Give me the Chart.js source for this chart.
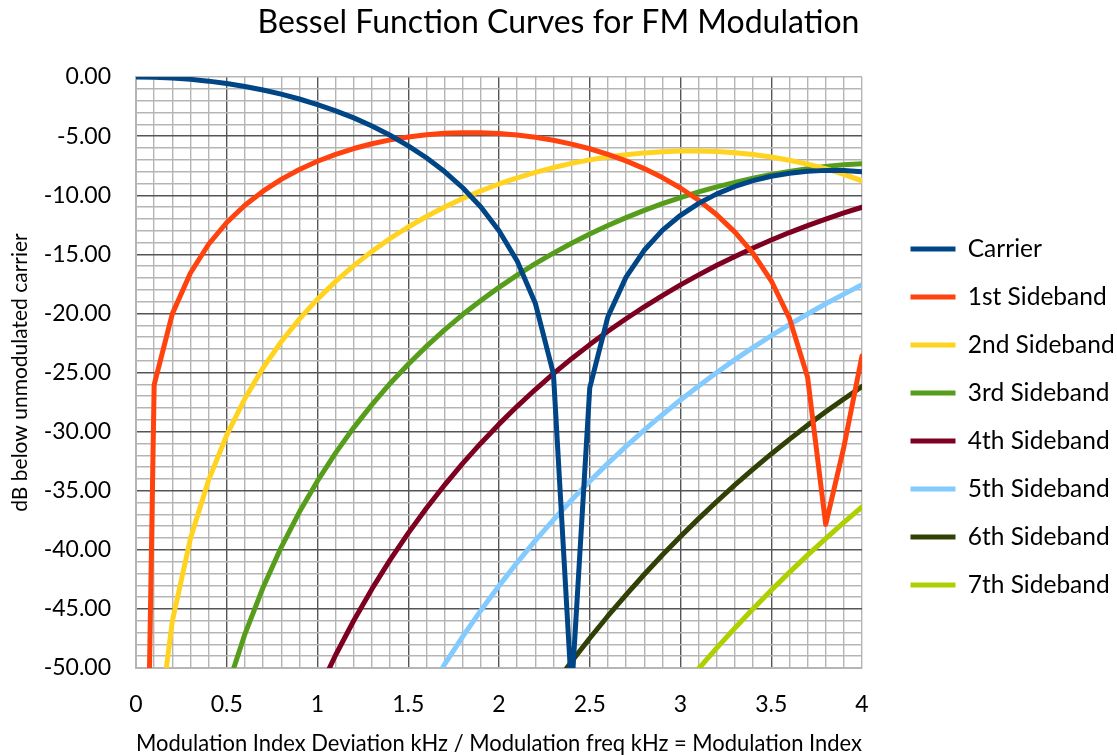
<!DOCTYPE html>
<html>
<head>
<meta charset="utf-8">
<script src="https://cdn.jsdelivr.net/npm/chart.js@4.4.1/dist/chart.umd.min.js"></script>
<style>
html,body{margin:0;padding:0;background:#ffffff;}
#wrap{width:1117px;height:755px;position:relative;}
</style>
</head>
<body>
<div id="wrap"><canvas id="c" width="1117" height="755"></canvas></div>
<script>
// ---- data (dB below unmodulated carrier vs modulation index) ----
const modIndex = [0.0,0.1,0.2,0.3,0.4,0.5,0.6,0.7,0.8,0.9,1.0,1.1,1.2,1.3,1.4,1.5,1.6,1.7,1.8,1.9,2.0,
                  2.1,2.2,2.3,2.4,2.5,2.6,2.7,2.8,2.9,3.0,3.1,3.2,3.3,3.4,3.5,3.6,3.7,3.8,3.9,4.0];

const carrierDb = [0.00,-0.02,-0.09,-0.20,-0.35,-0.55,-0.80,-1.10,-1.45,-1.86,-2.33,-2.86,-3.46,-4.15,-4.93,-5.82,-6.83,-8.00,-9.37,-11.00,-13.00,
                   -15.57,-19.14,-25.11,-52.04,-26.30,-20.28,-16.93,-14.66,-12.98,-11.70,-10.69,-9.89,-9.26,-8.77,-8.40,-8.14,-7.98,-7.90,-7.92,-8.02];
const sideband1Db = [-120,-26.04,-20.04,-16.58,-14.15,-12.31,-10.85,-9.66,-8.66,-7.83,-7.13,-6.54,-6.05,-5.65,-5.32,-5.07,-4.88,-4.76,-4.71,-4.71,-4.78,
                     -4.91,-5.10,-5.35,-5.68,-6.07,-6.54,-7.10,-7.75,-8.51,-9.39,-10.43,-11.66,-13.12,-14.93,-17.24,-20.40,-25.38,-37.86,-31.31,-23.61];
const sideband2Db = [null,-58.06,-46.05,-39.04,-34.10,-30.29,-27.20,-24.61,-22.40,-20.48,-18.79,-17.29,-15.96,-14.75,-13.66,-12.69,-11.80,-11.00,-10.28,-9.63,-9.05,
                     -8.53,-8.07,-7.66,-7.31,-7.01,-6.76,-6.57,-6.42,-6.32,-6.27,-6.26,-6.31,-6.41,-6.56,-6.77,-7.04,-7.37,-7.76,-8.23,-8.78];
const sideband3Db = [null,-93.63,-75.58,-65.05,-57.59,-51.82,-47.13,-43.19,-39.79,-36.81,-34.17,-31.80,-29.66,-27.72,-25.93,-24.30,-22.79,-21.40,-20.10,-18.91,-17.80,
                     -16.76,-15.79,-14.90,-14.06,-13.29,-12.57,-11.90,-11.29,-10.72,-10.20,-9.72,-9.29,-8.91,-8.56,-8.25,-7.99,-7.76,-7.58,-7.43,-7.33];
const sideband4Db = [null,-131.69,-107.61,-93.56,-83.59,-75.88,-69.60,-64.29,-59.72,-55.70,-52.12,-48.90,-45.98,-43.31,-40.85,-38.59,-36.48,-34.52,-32.69,-30.98,-29.37,
                     -27.86,-26.44,-25.10,-23.83,-22.64,-21.51,-20.45,-19.44,-18.49,-17.59,-16.74,-15.93,-15.18,-14.46,-13.79,-13.16,-12.57,-12.02,-11.50,-11.02];
const sideband5Db = [null,-171.69,-141.59,-124.01,-111.54,-101.88,-94.00,-87.36,-81.61,-76.56,-72.05,-67.99,-64.29,-60.91,-57.79,-54.90,-52.21,-49.70,-47.34,-45.13,-43.05,
                     -41.08,-39.22,-37.46,-35.79,-34.20,-32.69,-31.25,-29.88,-28.57,-27.32,-26.14,-25.00,-23.91,-22.88,-21.89,-20.95,-20.05,-19.18,-18.37,-17.58];
const sideband6Db = [null,-213.27,-177.15,-156.02,-141.07,-129.47,-120.00,-112.01,-105.10,-99.01,-93.58,-88.68,-84.22,-80.12,-76.35,-72.84,-69.57,-66.52,-63.65,-60.95,-58.40,
                     -55.99,-53.70,-51.52,-49.46,-47.48,-45.60,-43.81,-42.09,-40.44,-38.87,-37.36,-35.91,-34.51,-33.18,-31.89,-30.66,-29.47,-28.33,-27.24,-26.18];
const sideband7Db = [null,-256.19,-214.05,-189.40,-171.95,-158.41,-147.35,-138.01,-129.93,-122.82,-116.47,-110.73,-105.50,-100.70,-96.27,-92.15,-88.31,-84.72,-81.34,-78.15,-75.14,
                     -72.29,-69.58,-67.00,-64.54,-62.20,-59.95,-57.81,-55.75,-53.77,-51.88,-50.06,-48.30,-46.62,-44.99,-43.42,-41.91,-40.45,-39.05,-37.69,-36.37];

const seriesNames = ['Carrier','1st Sideband','2nd Sideband','3rd Sideband','4th Sideband','5th Sideband','6th Sideband','7th Sideband'];
const seriesValues = [carrierDb, sideband1Db, sideband2Db, sideband3Db, sideband4Db, sideband5Db, sideband6Db, sideband7Db];

// ---- styles ----
const seriesColors = ['#004586','#ff420e','#ffd320','#579d1c','#7e0021','#83caff','#314004','#aecf00'];
const GRID_MAJOR = '#555555';
const GRID_MINOR = '#b5b5b5';

Chart.defaults.font.family = 'Lato, "Open Sans", sans-serif';
Chart.defaults.color = '#000000';

const datasets = seriesNames.map((name, s) => ({
  label: name,
  data: modIndex.map((x, i) => ({x: x, y: seriesValues[s][i]})),
  borderColor: seriesColors[s],
  backgroundColor: seriesColors[s],
  borderWidth: 5,
  borderCapStyle: 'round',
  borderJoinStyle: 'round',
  pointRadius: 0,
  pointHoverRadius: 0,
  tension: 0,
  fill: false,
  spanGaps: false
}));

const legendPlacement = {
  id: 'legendPlacement',
  beforeLayout(chart) {
    const lg = chart.legend;
    if (lg && !lg._fixedFit) {
      const origFit = lg.fit.bind(lg);
      lg.fit = function () { origFit(); this.width = 255; };
      lg._fixedFit = true;
    }
  },
  afterLayout(chart) {
    const lg = chart.legend;
    if (!lg) return;
    const dx = 25, dy = 39.5;
    lg.left += dx; lg.right += dx;
    lg.top += dy; lg.bottom += dy;
  }
};

function gridWidth() { return 1.4; }

new Chart(document.getElementById('c'), {
  type: 'line',
  data: { datasets },
  plugins: [legendPlacement],
  options: {
    responsive: false,
    animation: false,
    devicePixelRatio: 1,
    layout: { padding: { left: 0, right: 0, top: 0, bottom: 0 } },
    plugins: {
      title: {
        display: true,
        text: 'Bessel Function Curves for FM Modulation',
        font: { size: 32, weight: 'normal' },
        color: '#000000',
        padding: { top: 3, bottom: 35.6 }
      },
      legend: {
        display: true,
        position: 'right',
        align: 'center',
        labels: {
          usePointStyle: true,
          pointStyle: 'line',
          pointStyleWidth: 45,
          padding: 23.5,
          font: { size: 24.5 },
          color: '#000000'
        }
      },
      tooltip: { enabled: false }
    },
    scales: {
      x: {
        type: 'linear',
        min: 0,
        max: 4,
        afterFit(scale) { scale.height = 87; },
        ticks: {
          stepSize: 0.1,
          autoSkip: false,
          maxRotation: 0,
          padding: 23,
          font: { size: 23 },
          color: '#000000',
          callback(v) {
            const t = Math.round(v * 10);
            return t % 5 === 0 ? String(t / 10) : '';
          }
        },
        grid: {
          drawTicks: false,
          lineWidth: gridWidth,
          color(ctx) {
            const t = Math.round(ctx.tick.value * 10);
            if (t === 0 || t === 40) return GRID_MINOR;
            return t % 5 === 0 ? GRID_MAJOR : GRID_MINOR;
          }
        },
        border: { display: true, color: GRID_MINOR, width: 2 },
        title: {
          display: true,
          text: 'Modulation Index Deviation kHz / Modulation freq kHz = Modulation Index',
          font: { size: 22.5 },
          color: '#000000',
          padding: { top: 0, bottom: -2 }
        }
      },
      y: {
        type: 'linear',
        min: -50,
        max: 0,
        afterFit(scale) { scale.width = 136; },
        ticks: {
          stepSize: 1,
          autoSkip: false,
          padding: 25,
          font: { size: 23 },
          color: '#000000',
          callback(v) {
            const t = Math.round(v);
            return t % 5 === 0 ? t.toFixed(2) : '';
          }
        },
        grid: {
          drawTicks: false,
          lineWidth: gridWidth,
          color(ctx) {
            const t = Math.round(ctx.tick.value);
            if (t === 0 || t === -50) return GRID_MINOR;
            return t % 5 === 0 ? GRID_MAJOR : GRID_MINOR;
          }
        },
        border: { display: true, color: GRID_MINOR, width: 2 },
        title: {
          display: true,
          text: 'dB below unmodulated carrier',
          font: { size: 21 },
          color: '#000000',
          padding: { top: 8, bottom: 0 }
        }
      }
    }
  }
});
</script>
</body>
</html>
